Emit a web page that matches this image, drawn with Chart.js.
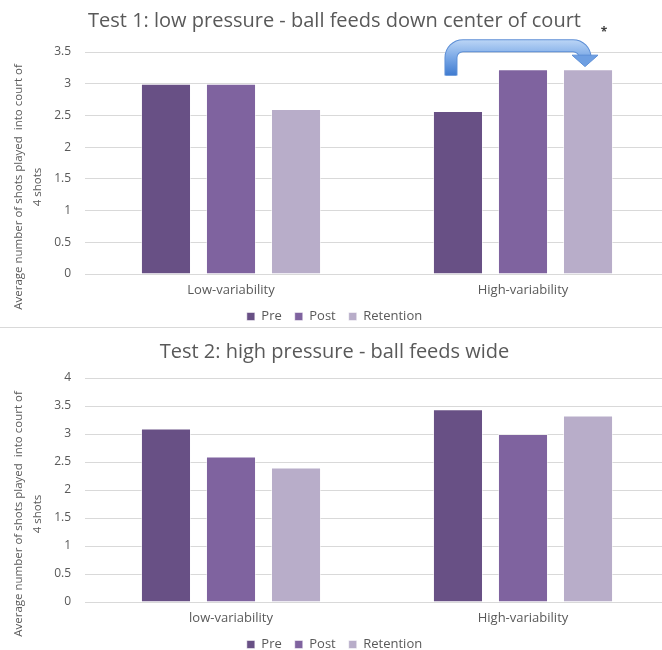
<!DOCTYPE html>
<html>
<head>
<meta charset="utf-8">
<script src="https://cdn.jsdelivr.net/npm/chart.js@4.4.1/dist/chart.umd.min.js"></script>
<style>
  html, body { margin: 0; padding: 0; background: #fff; }
  #page { width: 662px; height: 650px; overflow: hidden; position: relative; }
  .box { position: absolute; left: 0; width: 670px; overflow: hidden; }
  #box1 { top: 0; height: 326px; }
  #box2 { top: 330px; height: 331px; }
  #sep { position: absolute; left: 0; top: 327px; width: 662px; height: 1px; background: #d9d9d9; }
</style>
</head>
<body>
<div id="page">
  <div class="box" id="box1"><canvas id="chart1" width="670" height="333"></canvas></div>
  <div id="sep"></div>
  <div class="box" id="box2"><canvas id="chart2" width="670" height="331"></canvas></div>
</div>
<script>
// === Data ===
const seriesNames = ['Pre', 'Post', 'Retention'];
const seriesColors = ['#685085', '#7f639f', '#b8adc9'];

const test1Title = 'Test 1: low pressure - ball feeds down center of court';
const test1Labels = ['Low-variability', 'High-variability'];
const test1Pre = [3.0, 2.57];
const test1Post = [3.0, 3.23];
const test1Retention = [2.6, 3.23];
const test1Ticks = { max: 3.5, step: 0.5 };

const test2Title = 'Test 2: high pressure - ball feeds wide';
const test2Labels = ['low-variability', 'High-variability'];
const test2Pre = [3.1, 3.44];
const test2Post = [2.6, 3.0];
const test2Retention = [2.4, 3.33];
const test2Ticks = { max: 4, step: 0.5 };

const yAxisTitle = ['Average number of shots played  into court of', '4 shots'];

const FONT = "'Open Sans', 'Noto Sans', sans-serif";
const TEXT = '#595959';

// rotated y axis title (sits a bit lower than the plot centre, like the original)
const axisTitlePlugin = {
    id: 'axisTitle',
    afterDraw(chart) {
        const ctx = chart.ctx;
        const area = chart.chartArea;
        ctx.save();
        ctx.translate(0, (area.top + area.bottom) / 2 + 24);
        ctx.rotate(-Math.PI / 2);
        ctx.fillStyle = TEXT;
        ctx.font = '11.5px ' + FONT;
        ctx.textAlign = 'center';
        ctx.textBaseline = 'middle';
        ctx.fillText(yAxisTitle[0], 0, 19);
        ctx.fillText(yAxisTitle[1], 0, 38);
        ctx.restore();
    }
};

// curved block arrow + asterisk over the High-variability group (test 1 only)
const arrowPlugin = {
    id: 'arrow',
    afterDatasetsDraw(chart) {
        const ctx = chart.ctx;
        const y = chart.scales.y;
        const pre = chart.getDatasetMeta(0).data[1];
        const ret = chart.getDatasetMeta(2).data[1];
        const xL = pre.x - pre.width * 0.14;
        const xR = ret.x - 3;
        const yTop = y.getPixelForValue(3.6);
        const yBase = y.getPixelForValue(3.13);
        const yHead = y.getPixelForValue(3.45);
        const yTip = y.getPixelForValue(3.27);
        const r = 12;

        const grad = ctx.createLinearGradient(0, yTop - 6, 0, yBase);
        grad.addColorStop(0, '#bcd6f6');
        grad.addColorStop(0.5, '#7aa8e6');
        grad.addColorStop(1, '#3f7bd0');

        ctx.save();
        ctx.beginPath();
        ctx.moveTo(xL, yBase);
        ctx.lineTo(xL, yTop + r);
        ctx.arcTo(xL, yTop, xL + r, yTop, r);
        ctx.lineTo(xR - r, yTop);
        ctx.arcTo(xR, yTop, xR, yTop + r, r);
        ctx.lineTo(xR, yHead);
        ctx.lineWidth = 13;
        ctx.strokeStyle = '#5d8fd6';
        ctx.stroke();
        ctx.lineWidth = 11;
        ctx.strokeStyle = grad;
        ctx.stroke();

        ctx.beginPath();
        ctx.moveTo(xR - 13, yHead);
        ctx.lineTo(xR + 13, yHead);
        ctx.lineTo(xR, yTip);
        ctx.closePath();
        ctx.fillStyle = '#6e9fe2';
        ctx.fill();
        ctx.strokeStyle = '#5d8fd6';
        ctx.lineWidth = 1;
        ctx.stroke();

        ctx.fillStyle = '#404040';
        ctx.font = 'bold 12px ' + FONT;
        ctx.textAlign = 'center';
        ctx.textBaseline = 'middle';
        ctx.fillText('*', ret.x + 16, y.getPixelForValue(3.8));
        ctx.restore();
    }
};

function makeDatasets(pre, post, retention) {
    return [pre, post, retention].map((values, i) => ({
        label: seriesNames[i],
        data: values,
        backgroundColor: seriesColors[i],
        borderColor: 'rgba(255,255,255,0.5)',
        borderWidth: 1,
        categoryPercentage: 0.668,
        barPercentage: 0.77
    }));
}

function makeOptions(title, ticks, titlePad) {
    return {
        responsive: false,
        animation: false,
        layout: { padding: { left: 0, right: 1, top: 0, bottom: 0 } },
        plugins: {
            title: {
                display: true,
                text: title,
                color: TEXT,
                font: { family: FONT, size: 20, weight: 'normal' },
                padding: titlePad
            },
            legend: {
                position: 'bottom',
                labels: {
                    color: TEXT,
                    font: { family: FONT, size: 13 },
                    boxWidth: 8,
                    boxHeight: 8,
                    padding: 13
                }
            },
            tooltip: { enabled: false }
        },
        scales: {
            x: {
                grid: { display: false },
                border: { color: '#d9d9d9' },
                ticks: { color: TEXT, font: { family: FONT, size: 13 }, padding: 0 },
                afterFit(scale) { scale.height = 23; }
            },
            y: {
                min: 0,
                max: ticks.max,
                ticks: {
                    stepSize: ticks.step,
                    color: TEXT,
                    font: { family: FONT, size: 12 },
                    padding: 14,
                    callback: (v) => String(v)
                },
                grid: { color: '#d9d9d9', drawTicks: false },
                border: { display: false },
                afterFit(scale) { scale.width = 85; }
            }
        }
    };
}

new Chart(document.getElementById('chart1'), {
    type: 'bar',
    data: { labels: test1Labels, datasets: makeDatasets(test1Pre, test1Post, test1Retention) },
    options: makeOptions(test1Title, test1Ticks, { top: 9, bottom: 19 }),
    plugins: [axisTitlePlugin, arrowPlugin]
});

new Chart(document.getElementById('chart2'), {
    type: 'bar',
    data: { labels: test2Labels, datasets: makeDatasets(test2Pre, test2Post, test2Retention) },
    options: makeOptions(test2Title, test2Ticks, { top: 10, bottom: 14 }),
    plugins: [axisTitlePlugin]
});
</script>
</body>
</html>
